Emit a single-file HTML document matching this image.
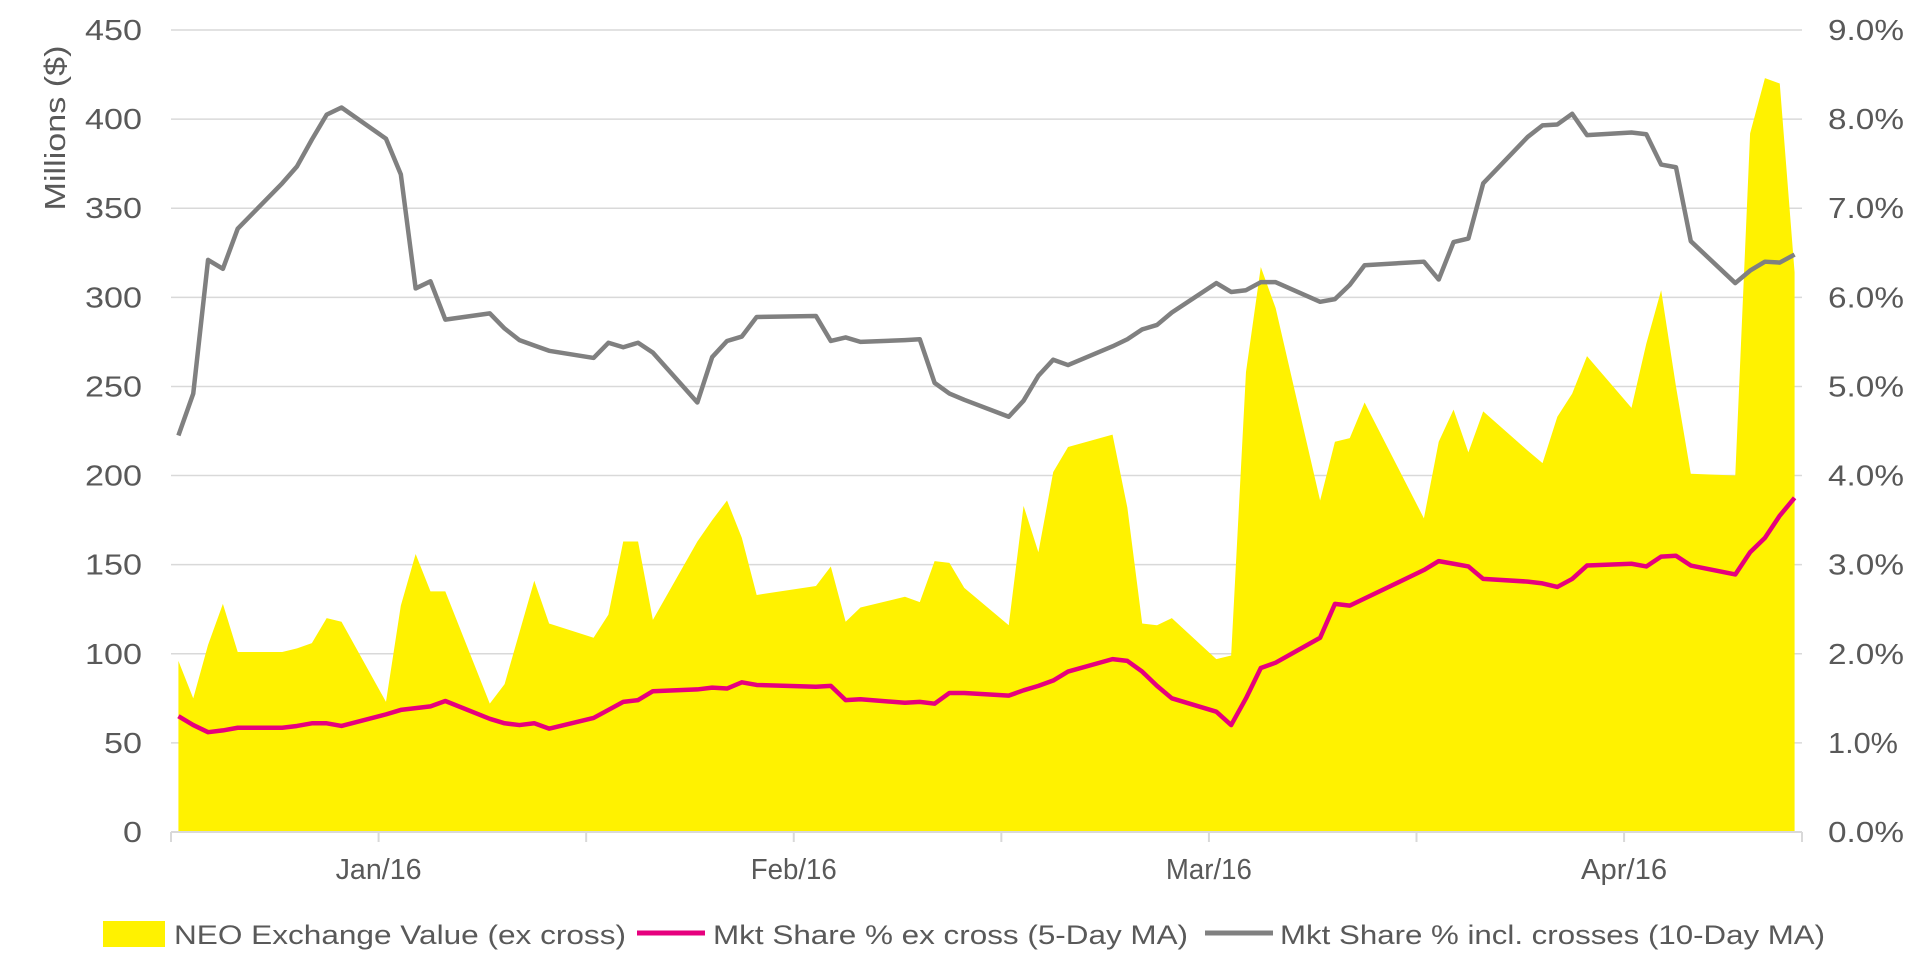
<!DOCTYPE html>
<html><head><meta charset="utf-8"><style>
html,body{margin:0;padding:0;background:#fff;}
svg{display:block;font-family:"Liberation Sans",Arial,sans-serif;}
</style></head><body>
<svg id="chart" width="1912" height="965" viewBox="0 0 1912 965" xmlns="http://www.w3.org/2000/svg">
<g id="grid"></g>
<g id="area"></g>
<g id="lines"></g>
<g id="axes"></g>
<text transform="translate(65,128) rotate(-90)" text-anchor="middle" font-size="29" fill="#595959" textLength="165" lengthAdjust="spacingAndGlyphs">Millions ($)</text>
<g>
  <g>
    <rect x="103" y="921" width="62" height="26" fill="#fff200"/>
    <text x="174" y="944" font-size="27" fill="#595959" textLength="452" lengthAdjust="spacingAndGlyphs">NEO Exchange Value (ex cross)</text>
  </g>
  <g>
    <line x1="637" y1="933" x2="705" y2="933" stroke="#e6007e" stroke-width="5"/>
    <text x="713" y="944" font-size="27" fill="#595959" textLength="475" lengthAdjust="spacingAndGlyphs">Mkt Share % ex cross (5-Day MA)</text>
  </g>
  <g>
    <line x1="1205" y1="933" x2="1273" y2="933" stroke="#808080" stroke-width="5"/>
    <text x="1280" y="944" font-size="27" fill="#595959" textLength="545" lengthAdjust="spacingAndGlyphs">Mkt Share % incl. crosses (10-Day MA)</text>
  </g>
</g>
</svg>
<script>
const dayIndex = [0,1,2,3,4,7,8,9,10,11,14,15,16,17,18,21,22,23,24,25,28,29,30,31,32,35,36,37,38,39,43,44,45,46,49,50,51,52,53,56,57,58,59,60,63,64,65,66,67,70,71,72,73,74,77,78,79,80,84,85,86,87,88,91,92,93,94,95,98,99,100,101,102,105,106,107,108,109];
const exchangeValue = [96,75,105,128,101,101,103,106,120,118,73,127,156,135,135,72,83,112,141,117,109,122,163,163,119,163,175,186,165,133,138,149,118,126,132,129,152,151,137,116,183,157,202,216,223,182,117,116,120,97,99,258,317,294,186,219,221,241,176,219,237,213,236,214,207,233,246,267,238,274,304,250,201,200,392,423,420,314];
const shareExCross = [1.30,1.20,1.12,1.14,1.17,1.17,1.19,1.22,1.22,1.19,1.32,1.37,1.39,1.41,1.47,1.27,1.22,1.20,1.22,1.16,1.28,1.37,1.46,1.48,1.58,1.60,1.62,1.61,1.68,1.65,1.63,1.64,1.48,1.49,1.45,1.46,1.44,1.56,1.56,1.53,1.59,1.64,1.70,1.80,1.94,1.92,1.80,1.64,1.50,1.35,1.20,1.50,1.84,1.90,2.18,2.56,2.54,2.62,2.94,3.04,3.01,2.98,2.84,2.81,2.79,2.75,2.84,2.99,3.01,2.98,3.09,3.10,2.99,2.89,3.14,3.30,3.55,3.75];
const shareInclCross = [4.45,4.92,6.42,6.32,6.77,7.28,7.47,7.77,8.05,8.13,7.78,7.38,6.10,6.18,5.75,5.82,5.65,5.52,5.46,5.40,5.32,5.49,5.44,5.49,5.38,4.82,5.33,5.51,5.56,5.78,5.79,5.51,5.55,5.50,5.52,5.53,5.04,4.92,4.85,4.66,4.84,5.12,5.30,5.24,5.45,5.53,5.64,5.69,5.83,6.16,6.06,6.08,6.17,6.17,5.95,5.98,6.14,6.36,6.40,6.20,6.62,6.66,7.28,7.80,7.93,7.94,8.06,7.82,7.85,7.83,7.49,7.46,6.63,6.16,6.30,6.40,6.39,6.48];
const leftTicks = [0,50,100,150,200,250,300,350,400,450];
const rightTicks = [0,1,2,3,4,5,6,7,8,9];
const monthLabels = ["Jan/16","Feb/16","Mar/16","Apr/16"];
const monthPos = [13.5,41.5,69.5,97.5];
const minorPos = [-0.5,27.5,55.5,83.5,109.5];

const L=171,R=1802,T=30,B=832;
const x = d => L + (d + 0.5) / 110 * (R - L);
const yL = v => B - v / 450 * (B - T);
const yR = v => B - v / 9 * (B - T);
const NS="http://www.w3.org/2000/svg";
function mk(tag, attrs, parent){const e=document.createElementNS(NS,tag);for(const k in attrs)e.setAttribute(k,attrs[k]);parent.appendChild(e);return e;}
const grid=document.getElementById('grid'),area=document.getElementById('area'),lines=document.getElementById('lines'),axes=document.getElementById('axes');

leftTicks.forEach((v,i)=>{
  if(v>0){const g=mk('line',{x1:L,x2:R,y1:yL(v),y2:yL(v),stroke:'#d9d9d9','stroke-width':1.5},grid);
  
  }
  const s=String(v);
  const t=mk('text',{x:142,y:yL(v)+10,'text-anchor':'end','font-size':29,fill:'#595959',textLength:s.length*19,lengthAdjust:'spacingAndGlyphs'},axes);
  t.textContent=s;
  
  
});
rightTicks.forEach(v=>{
  const t=mk('text',{x:1828,y:yR(v)+10,'font-size':29,fill:'#595959',textLength:(v===1?70:76),lengthAdjust:'spacingAndGlyphs'},axes);
  t.textContent=v.toFixed(1)+'%';
  
  
});

let d='M'+x(dayIndex[0])+','+B;
dayIndex.forEach((di,i)=>{d+=' L'+x(di)+','+yL(exchangeValue[i]);});
d+=' L'+x(dayIndex[dayIndex.length-1])+','+B+' Z';
const a=mk('path',{d:d,fill:'#fff200'},area);



const ax=mk('line',{x1:L,x2:R,y1:B,y2:B,stroke:'#d9d9d9','stroke-width':2},axes);


monthPos.concat(minorPos).forEach(p=>{
  const tk=mk('line',{x1:x(p),x2:x(p),y1:B,y2:B+10,stroke:'#d9d9d9','stroke-width':2},axes);
  
  
});
monthLabels.forEach((m,i)=>{
  const t=mk('text',{x:x(monthPos[i]),y:879,'text-anchor':'middle','font-size':29,fill:'#595959',textLength:86,lengthAdjust:'spacingAndGlyphs'},axes);
  t.textContent=m;
  
  
});

function linePath(vals){return dayIndex.map((di,i)=>(i?'L':'M')+x(di)+','+yR(vals[i])).join(' ');}
const g1=mk('path',{d:linePath(shareInclCross),fill:'none',stroke:'#808080','stroke-width':4.5,'stroke-linejoin':'round'},lines);


const p1=mk('path',{d:linePath(shareExCross),fill:'none',stroke:'#e6007e','stroke-width':4.5,'stroke-linejoin':'round'},lines);


</script>
</body></html>
